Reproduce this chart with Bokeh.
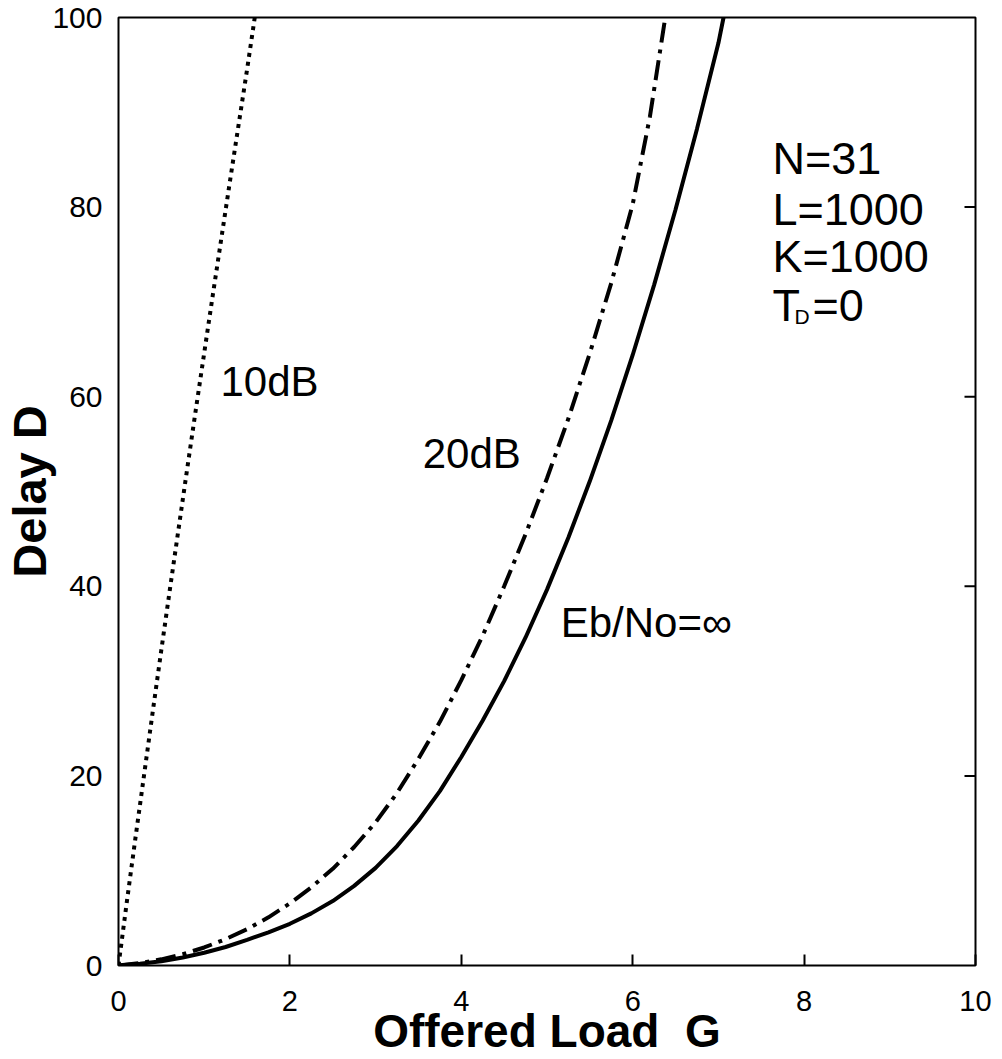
import math
from bokeh.plotting import figure
from bokeh.models import Range1d, FixedTicker, Label
from bokeh.embed import file_html
from bokeh.resources import INLINE

# Offered load G vs delay D
g_10db = [0.0, 0.1, 0.2, 0.3, 0.4, 0.5, 0.6, 0.7, 0.8, 0.9, 1.0, 1.1, 1.2, 1.3, 1.4, 1.5, 1.59]
d_10db = [0.0, 6.9, 13.6, 20.2, 26.8, 33.3, 39.7, 46.0, 52.3, 58.5, 64.6, 70.7, 76.7, 82.7, 88.6, 94.5, 100.0]

g_20db = [0.0, 0.25, 0.5, 0.75, 1.0, 1.25, 1.5, 1.75, 2.0, 2.25, 2.5, 2.75, 3.0, 3.25, 3.5, 3.75,
          4.0, 4.25, 4.5, 4.75, 5.0, 5.25, 5.5, 5.75, 6.0, 6.2, 6.38]
d_20db = [0.0, 0.25, 0.65, 1.2, 1.9, 2.78, 3.83, 5.08, 6.55, 8.25, 10.2, 12.5, 15.1, 18.2, 21.8, 25.7,
          30.1, 34.8, 40.0, 45.5, 51.4, 57.7, 64.6, 72.0, 80.3, 89.5, 100.0]

g_inf = [0.0, 0.25, 0.5, 0.75, 1.0, 1.25, 1.5, 1.75, 2.0, 2.25, 2.5, 2.75, 3.0, 3.25, 3.5, 3.75,
         4.0, 4.25, 4.5, 4.75, 5.0, 5.25, 5.5, 5.75, 6.0, 6.25, 6.5, 6.75, 7.0, 7.06]
d_inf = [0.0, 0.18, 0.45, 0.85, 1.35, 1.95, 2.7, 3.5, 4.4, 5.5, 6.8, 8.4, 10.3, 12.6, 15.3, 18.4,
         22.0, 25.85, 30.0, 34.6, 39.65, 45.15, 51.1, 57.5, 64.4, 71.8, 79.75, 88.25, 97.3, 100.0]

x_ticks = [0, 2, 4, 6, 8, 10]
y_ticks = [0, 20, 40, 60, 80, 100]
right_ticks = [20, 40, 60, 80]

curve_labels = ["10dB", "20dB", "Eb/No=\u221e"]
curve_label_g = [1.19, 3.55, 5.16]
curve_label_d = [59.9, 52.3, 34.5]

param_lines = ["N=31", "L=1000", "K=1000"]
param_g = 7.63
param_d = [83.3, 77.9, 72.9]
td_d = 67.8

X_MIN, X_MAX = 0, 10
Y_MIN, Y_MAX = 0, 100
FONT = "Liberation Sans"

p = figure(width=1002, height=1059, output_backend="svg", toolbar_location=None,
           x_range=Range1d(X_MIN, X_MAX), y_range=Range1d(Y_MIN, Y_MAX),
           x_axis_label="Offered Load\u00a0\u00a0G", y_axis_label="Delay D",
           min_border_left=118, min_border_right=27, min_border_top=17, min_border_bottom=93)
p.grid.visible = False
p.outline_line_color = "black"
p.outline_line_width = 2
p.background_fill_color = "white"
p.border_fill_color = "white"

xa = p.xaxis[0]
xa.ticker = FixedTicker(ticks=x_ticks)
xa.major_tick_in = 11
xa.major_tick_out = 0
xa.major_tick_line_width = 2
xa.minor_tick_line_color = None
xa.axis_line_color = None
xa.major_label_standoff = 25
xa.major_label_text_font = FONT
xa.major_label_text_font_size = "29px"
xa.major_label_text_color = "black"
xa.axis_label_text_font = FONT
xa.axis_label_text_font_style = "bold"
xa.axis_label_text_font_size = "46px"
xa.axis_label_standoff = -9
xa.axis_label_text_color = "black"

ya = p.yaxis[0]
ya.ticker = FixedTicker(ticks=y_ticks)
ya.major_tick_in = 0
ya.major_tick_out = 0
ya.minor_tick_line_color = None
ya.axis_line_color = None
ya.major_label_standoff = 16
ya.major_label_text_font = FONT
ya.major_label_text_font_size = "30px"
ya.major_label_text_color = "black"
ya.axis_label_text_font = FONT
ya.axis_label_text_font_style = "bold"
ya.axis_label_text_font_size = "47px"
ya.axis_label_standoff = -7
ya.axis_label_text_color = "black"

# inward ticks on the right edge of the frame
p.ray(x=[X_MAX] * len(right_ticks), y=right_ticks, length=11, length_units="screen",
      angle=math.pi, line_color="black", line_width=2)

p.line(g_10db, d_10db, line_color="black", line_width=4, line_dash="4 5")
p.line(g_20db, d_20db, line_color="black", line_width=4, line_dash="20 7 4 7")
p.line(g_inf, d_inf, line_color="black", line_width=4)


def add_text(x, y, t, size, dx=0, dy=0):
    p.add_layout(Label(x=x, y=y, x_offset=dx, y_offset=dy + 0.39 * size, text=t,
                       text_font=FONT, text_font_size=f"{size}px", text_color="black",
                       text_baseline="alphabetic", text_align="left"))


for t, gx, dy in zip(curve_labels, curve_label_g, curve_label_d):
    add_text(gx, dy, t, 42)

for t, dy in zip(param_lines, param_d):
    add_text(param_g, dy, t, 45)

add_text(param_g, td_d, "T", 45)
add_text(param_g, td_d, "D", 21, dx=22, dy=-2)
add_text(param_g, td_d, "=0", 45, dx=40)

open("out.html", "w").write(file_html(p, INLINE))
